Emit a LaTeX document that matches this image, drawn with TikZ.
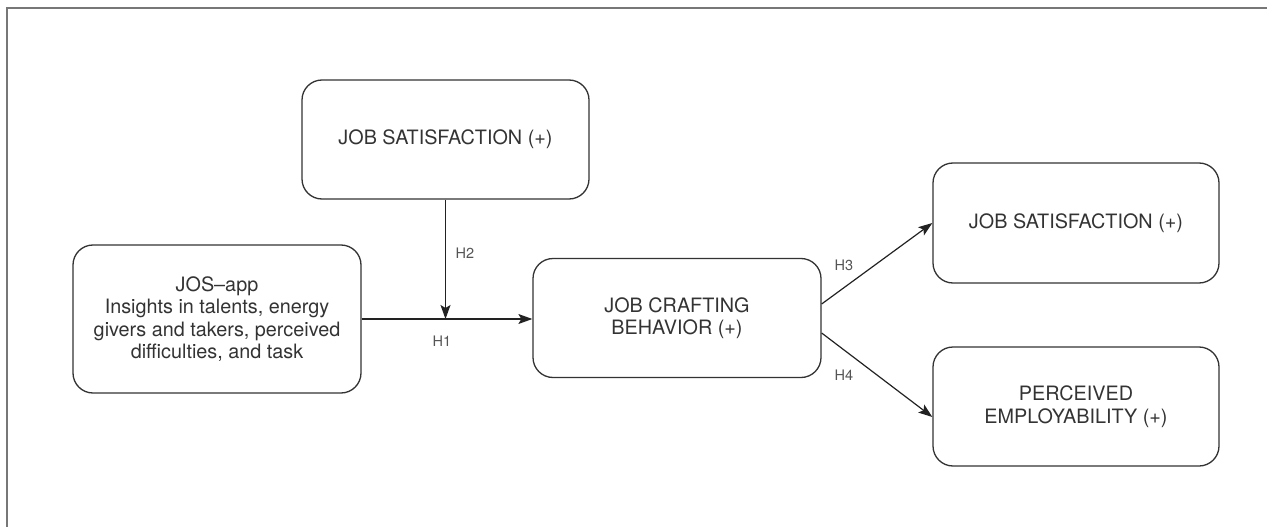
\documentclass[tikz,border=0pt]{standalone}
\usepackage{fontspec}
\setmainfont{TeX Gyre Heros}
\usetikzlibrary{arrows.meta,calc}

\definecolor{boxline}{HTML}{333333}
\definecolor{arrowline}{HTML}{222222}
\definecolor{boxtext}{HTML}{333333}
\definecolor{labeltext}{HTML}{555555}
\definecolor{framegray}{HTML}{777777}

\begin{document}
\begin{tikzpicture}[x=1pt,y=-1pt,
  block/.style={draw=boxline, line width=1.3pt, rounded corners=20pt,
    align=center, text=boxtext, inner sep=0pt,
    font=\fontsize{19.8}{22.5}\selectfont},
  link/.style={draw=arrowline, line width=1.2pt,
    -{Stealth[length=14pt,width=10pt,inset=3pt]}},
  hyp/.style={text=labeltext, inner sep=0pt, font=\fontsize{14.5}{16}\selectfont}
]
\useasboundingbox (0,0) rectangle (1267,527);

% outer frame (top and left edges)
\draw[framegray, line width=2pt] (7,527) -- (7,8) -- (1267,8);

% boxes
\node[block, minimum width=287pt, minimum height=119pt] (mod) at (445.5,139.5) {JOB SATISFACTION (+)};
\node[block, minimum width=288pt, minimum height=148pt] (jos) at (217,319) {JOS--app\\Insights in talents, energy\\givers and takers, perceived\\difficulties, and task};
\node[block, minimum width=288pt, minimum height=119pt] (jcb) at (677,318) {JOB CRAFTING\\BEHAVIOR (+)};
\node[block, minimum width=286pt, minimum height=120pt] (sat) at (1076,223) {JOB SATISFACTION (+)};
\node[block, minimum width=286pt, minimum height=119pt] (emp) at (1076,406.5) {PERCEIVED\\EMPLOYABILITY (+)};

% connector end points
\coordinate (meet) at (mod.south |- jos.east);
\coordinate (h3s) at (jcb.east |- 0,304);
\coordinate (h4s) at (jcb.east |- 0,333);
\coordinate (h4e) at (emp.west |- 0,417);

% connectors
\draw[link] (jos.east) -- (jos.east -| jcb.west);
\draw[link] (mod.south) -- (meet);
\draw[link] (h3s) -- (sat.west);
\draw[link] (h4s) -- (h4e);

% hypothesis labels
\node[hyp] (lh1) at (442,341) {H1};
\node[hyp] (lh2) at (465,253) {H2};
\node[hyp] (lh3) at (844,265) {H3};
\node[hyp] (lh4) at (844,375) {H4};
\end{tikzpicture}
\end{document}
